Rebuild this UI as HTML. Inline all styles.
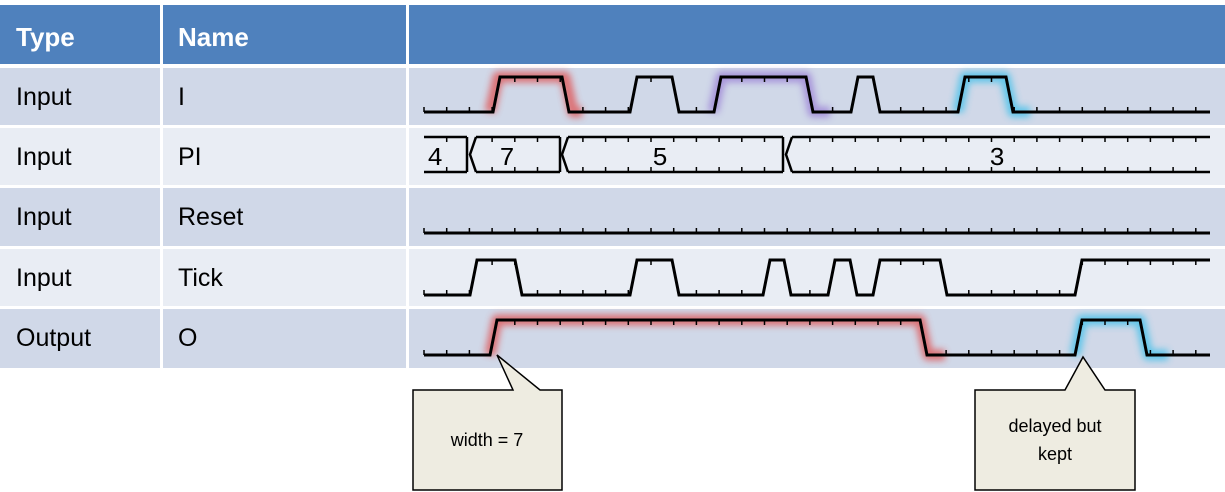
<!DOCTYPE html>
<html><head><meta charset="utf-8"><style>
body{margin:0;width:1225px;height:492px;background:#fff;overflow:hidden;font-family:"Liberation Sans",sans-serif}
svg{position:absolute;left:0;top:0}
</style></head><body>
<svg id="s" width="1225" height="492" xmlns="http://www.w3.org/2000/svg">
<defs>
<filter id="b" x="-20%" y="-50%" width="140%" height="200%"><feGaussianBlur stdDeviation="3.5"/></filter>
</defs>
<rect x="0" y="5" width="160" height="59" fill="#4f81bd"/>
<rect x="163" y="5" width="243" height="59" fill="#4f81bd"/>
<rect x="409" y="5" width="816" height="59" fill="#4f81bd"/>
<g fill="#d0d8e8">
<rect x="0" y="68" width="160" height="57"/><rect x="163" y="68" width="243" height="57"/><rect x="409" y="68" width="816" height="57"/>
<rect x="0" y="188" width="160" height="58"/><rect x="163" y="188" width="243" height="58"/><rect x="409" y="188" width="816" height="58"/>
<rect x="0" y="309" width="160" height="59"/><rect x="163" y="309" width="243" height="59"/><rect x="409" y="309" width="816" height="59"/>
</g>
<g fill="#e9edf4">
<rect x="0" y="128" width="160" height="57"/><rect x="163" y="128" width="243" height="57"/><rect x="409" y="128" width="816" height="57"/>
<rect x="0" y="249" width="160" height="57"/><rect x="163" y="249" width="243" height="57"/><rect x="409" y="249" width="816" height="57"/>
</g>
<g font-size="26" font-weight="bold" fill="#fff"><text x="16" y="46">Type</text><text x="178" y="46">Name</text></g>
<g font-size="25" fill="#000">
<text x="16" y="105">Input</text><text x="178" y="105">I</text>
<text x="16" y="165">Input</text><text x="178" y="165">PI</text>
<text x="16" y="225">Input</text><text x="178" y="225">Reset</text>
<text x="16" y="286">Input</text><text x="178" y="286">Tick</text>
<text x="16" y="346">Output</text><text x="178" y="346">O</text>
</g>
<g fill="none" stroke-width="11" stroke-linejoin="round" filter="url(#b)" opacity="0.75">
<polyline points="490,112 498,77 565,77 573,112 582,112" stroke="#e05050"/>
<polyline points="713,112 721,77 806,77 813,112 830,112" stroke="#9a7fd6"/>
<polyline points="958,112 965,77 1005,77 1013,112 1030,112" stroke="#3ec0ea"/>
<polyline points="490,355 497,320 920,320 928,355 945,355" stroke="#e05050"/>
<polyline points="1075,355 1082,320 1140,320 1148,355 1168,355" stroke="#3ec0ea"/>
</g>
<g id="w" fill="none" stroke="#000" stroke-width="3" stroke-linejoin="miter"></g>
<g font-family="'Liberation Mono',monospace" font-size="26" fill="#000" text-anchor="middle">
<text x="435" y="165">4</text><text x="507" y="165">7</text><text x="660" y="165">5</text><text x="997" y="165">3</text>
</g>
<polygon points="413,390 513,390 497,355 540,390 562,390 562,490 413,490" fill="#eeece1" stroke="#000" stroke-width="1.5"/>
<polygon points="975,390 1065,390 1083,357 1105,390 1135,390 1135,490 975,490" fill="#eeece1" stroke="#000" stroke-width="1.5"/>
<g font-size="18" fill="#000" text-anchor="middle">
<text x="487" y="446">width = 7</text>
<text x="1055" y="432">delayed but</text><text x="1055" y="460">kept</text>
</g>
</svg>
<script>
var g=document.getElementById('w'),NS='http://www.w3.org/2000/svg';
function tk(x,y,d){var t=document.createElementNS(NS,'line');t.setAttribute('x1',x);t.setAttribute('x2',x);t.setAttribute('y1',y);t.setAttribute('y2',y+d);t.setAttribute('stroke-width','1.5');g.appendChild(t);}
function pline(pts,w){var p=document.createElementNS(NS,'polyline');p.setAttribute('points',pts.map(a=>a.join(',')).join(' '));if(w)p.setAttribute('stroke-width',w);g.appendChild(p);}
function pl(pts,mid){pline(pts);
 for(var k=0;k<36;k++){var x=424+k*22.7;if(x>1210)break;
  for(var i=0;i<pts.length-1;i++){var a=pts[i],b=pts[i+1];if(a[1]==b[1]&&x>=a[0]&&x<=b[0]){tk(x,a[1],a[1]>mid?-5:5);break;}}}}
function sig(lo,hi,xs){var pts=[[424,lo]],cur=lo;
 for(var i=0;i<xs.length;i++){var n=cur==lo?hi:lo;pts.push([xs[i],cur]);pts.push([xs[i]+7,n]);cur=n;}pts.push([1210,cur]);pl(pts,(lo+hi)/2);}
sig(112,77,[493,562,630,672,714,806,851,873,958,1006]);
pl([[424,233],[1210,233]],200);
sig(295,260,[470,515,630,672,763,784,828,850,873,940,1075]);
sig(355,320,[490,920,1075,1140]);
var bt=137,bb=172,bm=154.5;
function bus(a,b,lt,closeR){
 if(lt){pline([[a+6,bt],[a,bm],[a+6,bb]],2.5);}
 pline([[lt?a+6:a,bt],[b,bt]],2.5);pline([[lt?a+6:a,bb],[b,bb]],2.5);
 if(closeR)pline([[b,bt],[b,bb]],2.5);
 for(var k=0;k<36;k++){var x=424+k*22.7;if(x>a+6&&x<b-2){tk(x,bt,5);tk(x,bb,-5);}}}
bus(424,467,false,true);bus(470,560,true,true);bus(562,783,true,true);bus(786,1210,true,false);
</script>
</body></html>
